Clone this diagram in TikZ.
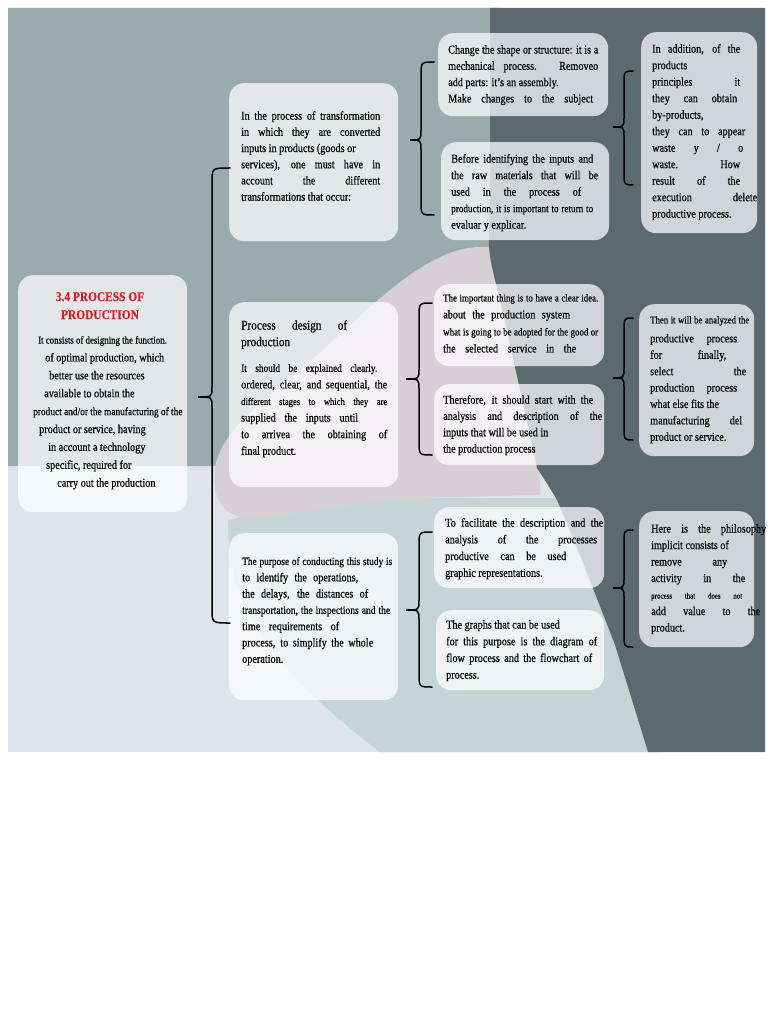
\documentclass[tikz,border=0pt]{standalone}
\usepackage{fontspec}
\setmainfont{Liberation Serif}[FakeStretch=0.85,FakeBold=0.35]
\definecolor{tgray}{RGB}{154,171,172}
\definecolor{slate}{RGB}{92,106,112}
\definecolor{lgray}{RGB}{223,228,230}
\definecolor{lteal}{RGB}{197,212,212}
\definecolor{pinkb}{RGB}{214,207,212}
\definecolor{titlered}{RGB}{232,22,30}
\newcommand\J[2]{\makebox[#1pt][s]{#2}}
\newcommand\fs[2]{{\fontsize{#1}{10}\selectfont #2}}
\newcommand\st{\rule{0pt}{7pt}}
\tikzset{
 panel/.style={fill=white, fill opacity=0.72, rounded corners=15pt, inner sep=0pt, anchor=north west, draw=none},
 txt/.style={anchor=north west, inner sep=0pt, align=left, text=black, font=\fontsize{12}{#1}\selectfont},
 curl/.style={draw=black, line width=1.5pt, line cap=round}
}
\newcommand\curly[6]{%
 \draw[curl] (#1,#4) .. controls (#2,#4) .. (#2,#4+14) -- (#2,#5-10) .. controls (#2,#5) .. (#3,#5) .. controls (#2,#5) .. (#2,#5+10) -- (#2,#6-14) .. controls (#2,#6) .. (#1,#6);}
\begin{document}
\begin{tikzpicture}[x=1pt,y=-1pt]
\useasboundingbox (0,0) rectangle (768,1024);
\fill[white] (0,0) rectangle (768,1024);
% background
\fill[lgray] (8,8) rectangle (765,752);
\fill[tgray] (8,8) -- (500,8) -- (500,470) -- (240,466) -- (8,466) -- cycle;
\fill[lteal] (228,520) .. controls (300,505) .. (420,498) -- (600,498) -- (660,752) -- (380,752) .. controls (260,660) and (228,600) .. cycle;
\fill[pinkb] (214,478) .. controls (214,440) and (250,410) .. (300,370) .. controls (360,320) and (420,248) .. (480,247) -- (540,247) -- (540,495) -- (420,498) .. controls (330,505) and (280,518) .. (250,518) .. controls (225,518) and (214,500) .. cycle;
\fill[slate] (490,8) -- (765,8) -- (765,752) -- (648,752) .. controls (632,700) .. (615,645) .. controls (590,580) and (570,530) .. (557,500) .. controls (548,485) .. (537,468) .. controls (520,390) and (505,320) .. (495,280) .. controls (488,250) .. (490,200) -- cycle;

% panels
\node[panel, minimum width=169, minimum height=237] (L) at (18,275) {};
\node[panel, minimum width=169, minimum height=158] (M1) at (229,83) {};
\node[panel, minimum width=169, minimum height=185] (M2) at (229,302) {};
\node[panel, minimum width=169, minimum height=167] (M3) at (229,533) {};
\node[panel, minimum width=170, minimum height=83] (R1a) at (438,33) {};
\node[panel, minimum width=168, minimum height=98] (R1b) at (441,142) {};
\node[panel, minimum width=170, minimum height=82] (R2a) at (434,284) {};
\node[panel, minimum width=170, minimum height=81] (R2b) at (434,384) {};
\node[panel, minimum width=170, minimum height=81] (R3a) at (434,507) {};
\node[panel, minimum width=168, minimum height=80] (R3b) at (436,610) {};
\node[panel, minimum width=116, minimum height=201] (F1) at (641,32) {};
\node[panel, minimum width=115, minimum height=152] (F2) at (639,304) {};
\node[panel, minimum width=115, minimum height=136] (F3) at (639,511) {};

% braces
\curly{230}{212}{198}{168}{397}{623}
\curly{434}{421}{410}{62}{140}{215}
\curly{432}{419}{406}{303}{379}{455}
\curly{432}{419}{406}{532}{610}{687}
\curly{633}{624}{613}{71}{127}{185}
\curly{633}{624}{613}{318}{378}{440}
\curly{633}{624}{613}{530}{588}{647}

% texts
\node[anchor=north, inner sep=0pt, align=center, font=\fontsize{13.4}{18}\selectfont\bfseries, text=titlered] (Lt) at (100,292) {3.4 PROCESS OF\\PRODUCTION};
\node[txt=17.9] (Lb) at (33,336) {\st\hspace*{5pt}\fs{10.4}{It consists of designing the function.}\\
\hspace*{12pt}of optimal production, which\\
\hspace*{16pt}better use the resources\\
\hspace*{11pt}available to obtain the\\
\fs{11}{product and/or the manufacturing of the}\\
\hspace*{6pt}product or service, having\\
\hspace*{15pt}in account a technology\\
\hspace*{13pt}specific, required for\\
\hspace*{24pt}carry out the production};

\node[txt=16.2] (M1t) at (241,111) {\st\J{139}{In the process of transformation}\\
\J{139}{in which they are converted}\\
inputs in products (goods or\\
\J{139}{services), one must have in}\\
\J{139}{account the different}\\
transformations that occur:};

\node[txt=16.6] (M2t) at (241,320) {\st{\fontsize{13.3}{16}\selectfont\J{106}{Process design of}}\\
{\fontsize{13.3}{16}\selectfont production}\\[9pt]
\fs{10.9}{\J{136}{It should be explained clearly.}}\\
\J{146}{ordered, clear, and sequential, the}\\
\fs{10.1}{\J{146}{different stages to which they are}}\\
\J{117}{supplied the inputs until}\\
\J{146}{to arrivea the obtaining of}\\
final product.};

\node[txt=16.3] (M3t) at (242,557) {\st\fs{11}{\J{150}{The purpose of conducting this study is}}\\
\J{116}{to identify the operations,}\\
\J{126}{the delays, the distances of}\\
\fs{11.3}{\J{148}{transportation, the inspections and the}}\\
\J{97}{time requirements of}\\
\J{131}{process, to simplify the whole}\\
operation.};

\node[txt=16.3] (R1at) at (448,45) {\st\J{150}{Change the shape or structure: it is a}\\
\J{150}{mechanical process. Removeo}\\
add parts: it's an assembly.\\
\J{145}{Make changes to the subject}};

\node[txt=16.5] (R1bt) at (451,154) {\st\J{142}{Before identifying the inputs and}\\
\J{147}{the raw materials that will be}\\
\J{130}{used in the process of}\\
\fs{10.8}{\J{142}{production, it is important to return to}}\\
evaluar y explicar.};

\node[txt=17] (R2at) at (443,294) {\st\fs{10.4}{\J{155}{The important thing is to have a clear idea.}}\\
\J{127}{about the production system}\\
\fs{10.5}{\J{155}{what is going to be adopted for the good or}}\\
\J{133}{the selected service in the}};

\node[txt=16.3] (R2bt) at (443,395) {\st\J{150}{Therefore, it should start with the}\\
\J{159}{analysis and description of the}\\
inputs that will be used in\\
the production process};

\node[txt=16.7] (R3at) at (445,518) {\st\J{158}{To facilitate the description and the}\\
\J{152}{analysis of the processes}\\
\J{121}{productive can be used}\\
graphic representations.};

\node[txt=16.7] (R3bt) at (446,620) {\st The graphs that can be used\\
\J{151}{for this purpose is the diagram of}\\
\J{146}{flow process and the flowchart of}\\
process.};

\node[txt=16.5] (F1t) at (652,44) {\st\J{88}{In addition, of the}\\
products\\
\J{88}{principles it}\\
\J{85}{they can obtain}\\
by-products,\\
\J{93}{they can to appear}\\
\J{91}{waste y / o}\\
\J{88}{waste. How}\\
\J{88}{result of the}\\
\J{105}{execution delete}\\
productive process.};

\node[txt=16.4] (F2t) at (650,316) {\st\fs{10.3}{\J{99}{Then it will be analyzed the}}\\[2.6pt]
\J{87}{productive process}\\
\J{76}{for finally,}\\
\J{96}{select the}\\
\J{87}{production process}\\
what else fits the\\
\J{92}{manufacturing del}\\
product or service.};

\node[txt=16.5] (F3t) at (651,524) {\st\J{115}{Here is the philosophy}\\
implicit consists of\\
\J{76}{remove any}\\
\J{94}{activity in the}\\
\fs{8.2}{\J{91}{process that does not}}\\
\J{109}{add value to the}\\
product.};
\end{tikzpicture}
\end{document}
